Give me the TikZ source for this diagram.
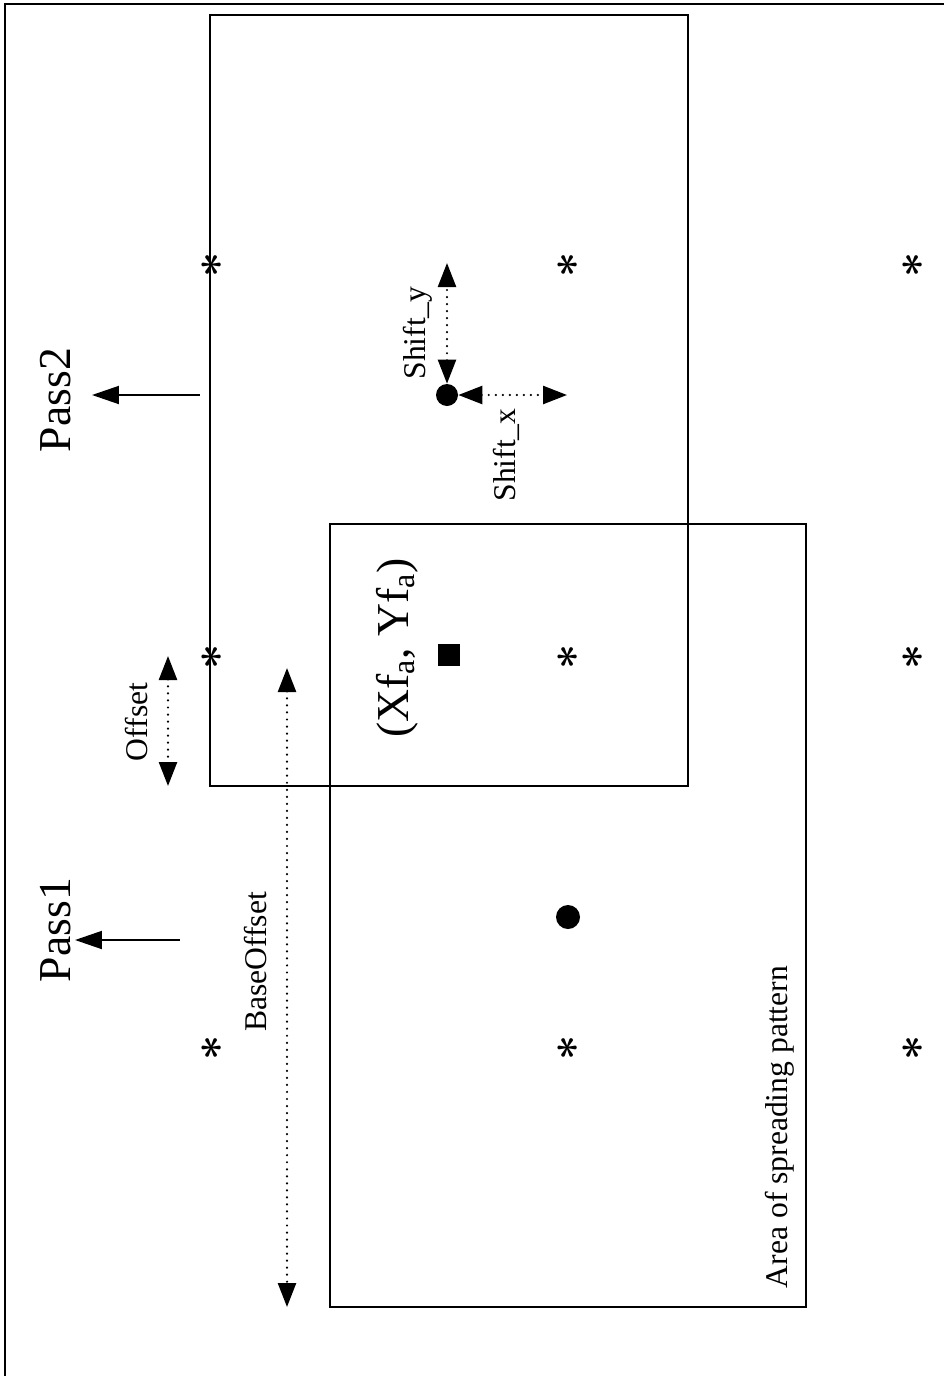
\documentclass[tikz,border=0pt]{standalone}
\usepackage{fontspec}
\setmainfont{Liberation Serif}
\usetikzlibrary{arrows.meta}

\begin{document}
\begin{tikzpicture}[x=0.02cm,y=-0.02cm,
  box/.style={draw,line width=1.1pt},
  big/.style={rotate=90,inner sep=0pt,font=\fontsize{26}{30}\selectfont},
  lbl/.style={rotate=90,inner sep=0pt,font=\fontsize{18}{22}\selectfont},
  gridpt/.style={rotate=90,inner sep=0pt,font=\boldmath\fontsize{28}{28}\selectfont},
  blob/.style={circle,fill,inner sep=0pt,minimum size=0.44cm},
  tip/.style={-{Triangle[length=0.54cm,width=0.36cm]}},
  both/.style={{Triangle[length=0.48cm,width=0.36cm]}-{Triangle[length=0.48cm,width=0.36cm]}},
  dots/.style={line width=1.4pt,line cap=round,dash pattern=on 0pt off 4pt}]
  \useasboundingbox (0,0) rectangle (944,1376);
  % frame and the two areas
  \draw[line width=1.6pt] (5,1376) -- (5,4) -- (944,4);
  \draw[box] (210,15) rectangle (688,786);
  \draw[box] (330,524) rectangle (806,1307);
  % grid of points
  \foreach \x in {212,568,913}
    \foreach \y in {265,657,1048}
      \node[gridpt] (s-\x-\y) at (\x,\y) {$\ast$};
  \node[fill,inner sep=0pt,minimum size=0.44cm] (fa) at (449,655) {};
  \node[blob,minimum size=0.48cm] (cen) at (568,917) {};
  \node[blob] (shdot) at (447,395) {};
  % labels
  \node[big] (pass2) at (56,400) {Pass2};
  \node[big] (pass1) at (56,930) {Pass1};
  \node[big] (fa-lbl) at (397,648) {(Xf\textsubscript{a}, Yf\textsubscript{a})};
  \node[lbl] (sy-lbl) at (418,333) {Shift\_y};
  \node[lbl] (sx-lbl) at (506,455) {Shift\_x};
  \node[lbl] (off-lbl) at (137,722) {Offset};
  \node[lbl] (base-lbl) at (256,962) {BaseOffset};
  \node[lbl] (area-lbl) at (780,1127) {Area of spreading pattern};
  % arrows
  \coordinate (p2a) at (200,395); \coordinate (p2b) at (92,395);
  \coordinate (p1a) at (180,940); \coordinate (p1b) at (75,940);
  \draw[tip,line width=1.1pt] (p2a) -- (p2b);
  \draw[tip,line width=1.1pt] (p1a) -- (p1b);
  \coordinate (shy) at (447,263); \coordinate (shx) at (567,395);
  \draw[dots,both] (shdot.north) -- (shy);
  \draw[dots,both] (shdot.east) -- (shx);
  \coordinate (off-a) at (168,656); \coordinate (off-b) at (168,786);
  \draw[dots,both] (off-a) -- (off-b);
  \coordinate (base-a) at (287,668); \coordinate (base-b) at (287,1307);
  \draw[dots,both] (base-a) -- (base-b);
\end{tikzpicture}
\end{document}
